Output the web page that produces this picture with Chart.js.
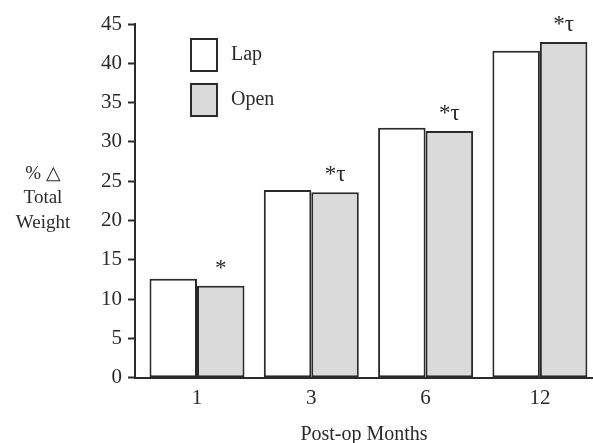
<!DOCTYPE html>
<html>
<head>
<meta charset="utf-8">
<script src="https://cdn.jsdelivr.net/npm/chart.js@4"></script>
<style>
    html, body { margin: 0; padding: 0; background: #fff; overflow: hidden; }
    #wrap { width: 593px; height: 443px; }
</style>
</head>
<body>
<div id="wrap"><canvas id="weightChart" width="593" height="443"></canvas></div>
<script>
    const months = ['1', '3', '6', '12'];
    const lapValues = [12.6, 23.9, 31.8, 41.6];
    const openValues = [11.7, 23.6, 31.4, 42.7];
    const markers = ['*', '*\u03C4', '*\u03C4', '*\u03C4'];
    const yTitleLines = ['% \u25B3', 'Total', 'Weight'];

    const serif = "'Liberation Serif', 'Times New Roman', serif";
    const ink = '#2a2a2a';

    // legend boxes, significance marks and the horizontal y title
    const extrasPlugin = {
        id: 'extras',
        afterDatasetsDraw(chart) {
            const ctx = chart.ctx;
            const area = chart.chartArea;
            ctx.save();

            // marks above the Open bars
            ctx.fillStyle = ink;
            ctx.font = '23px ' + serif;
            ctx.textAlign = 'center';
            ctx.textBaseline = 'alphabetic';
            chart.getDatasetMeta(1).data.forEach((bar, i) => {
                ctx.fillText(markers[i], bar.x, bar.y - 11);
            });

            // legend
            chart.data.datasets.forEach((ds, i) => {
                const x = area.left + 56;
                const y = area.top + 15 + i * 45;
                ctx.fillStyle = ds.backgroundColor;
                ctx.fillRect(x, y, 26, 32);
                ctx.strokeStyle = ink;
                ctx.lineWidth = 2;
                ctx.strokeRect(x, y, 26, 32);
                ctx.fillStyle = ink;
                ctx.font = '20px ' + serif;
                ctx.textAlign = 'left';
                ctx.textBaseline = 'middle';
                ctx.fillText(ds.label, x + 40, y + 16);
            });

            // y title, written flat
            ctx.font = '19px ' + serif;
            ctx.textAlign = 'center';
            ctx.textBaseline = 'middle';
            yTitleLines.forEach((line, i) => {
                ctx.fillText(line, 43, 174 + i * 24.5);
            });
            ctx.restore();
        }
    };

    const ctx = document.getElementById('weightChart').getContext('2d');
    new Chart(ctx, {
        type: 'bar',
        data: {
            datasets: [
                {
                    label: 'Lap',
                    data: lapValues.map((v, i) => ({ x: i, y: v })),
                    backgroundColor: '#ffffff',
                    borderColor: ink,
                    borderWidth: 2,
                    borderSkipped: false
                },
                {
                    label: 'Open',
                    data: openValues.map((v, i) => ({ x: i, y: v })),
                    backgroundColor: '#dadada',
                    borderColor: ink,
                    borderWidth: 2,
                    borderSkipped: false
                }
            ]
        },
        options: {
            responsive: false,
            animation: false,
            devicePixelRatio: 1,
            layout: {
                padding: { left: 100, top: 24, right: 0, bottom: -2 }
            },
            datasets: {
                bar: {
                    categoryPercentage: 0.831,
                    barPercentage: 1.0
                }
            },
            plugins: {
                legend: { display: false },
                tooltip: { enabled: false }
            },
            scales: {
                x: {
                    type: 'linear',
                    offset: false,
                    min: -0.5424,
                    max: 3.4646,
                    afterBuildTicks: scale => {
                        scale.ticks = months.map((m, i) => ({ value: i }));
                    },
                    ticks: {
                        color: ink,
                        padding: 8,
                        font: { family: serif, size: 21 },
                        callback: value => months[value]
                    },
                    grid: {
                        display: true,
                        drawOnChartArea: false,
                        drawTicks: false
                    },
                    border: {
                        display: true,
                        color: ink,
                        width: 2
                    },
                    title: {
                        display: true,
                        text: 'Post-op Months',
                        color: ink,
                        padding: { top: 6, bottom: 0 },
                        font: { family: serif, size: 20, lineHeight: 1.0 }
                    }
                },
                y: {
                    min: 0,
                    max: 45,
                    afterFit: scale => {
                        scale.width = 35;
                    },
                    ticks: {
                        stepSize: 5,
                        color: ink,
                        padding: 6,
                        font: { family: serif, size: 21 }
                    },
                    grid: {
                        drawOnChartArea: false,
                        drawTicks: true,
                        tickLength: 7,
                        tickWidth: 2,
                        tickColor: ink
                    },
                    border: {
                        display: true,
                        color: ink,
                        width: 2
                    }
                }
            }
        },
        plugins: [extrasPlugin]
    });
</script>
</body>
</html>
